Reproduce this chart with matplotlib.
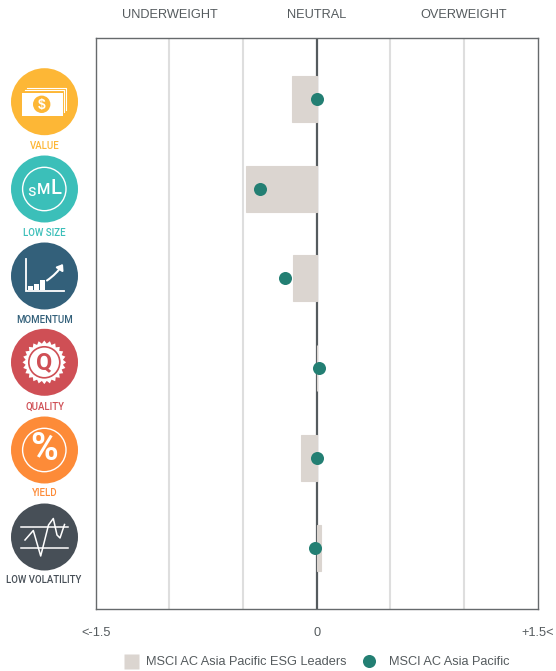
import numpy as np
import matplotlib
matplotlib.use('Agg')
import matplotlib.pyplot as plt
from matplotlib.lines import Line2D
from matplotlib.patches import Circle, Rectangle, Polygon, FancyArrowPatch

plt.rcParams['font.family'] = ['Liberation Sans', 'DejaVu Sans']

factors = ['VALUE', 'LOW SIZE', 'MOMENTUM', 'QUALITY', 'YIELD', 'LOW VOLATILITY']
esg_leaders = [-0.17, -0.48, -0.16, 0.004, -0.105, 0.03]
asia_pacific = [0.0, -0.385, -0.218, 0.012, 0.004, -0.012]
factor_colors = ['#FDB736', '#3BBFB9', '#33607A', '#CF4F55', '#FD8B38', '#474F57']
xtick_pos = [-1.5, 0, 1.5]
xtick_labels = ['<-1.5', '0', '+1.5<']
grid_pos = [-1.0, -0.5, 0.5, 1.0]
top_pos = [-1.0, 0, 1.0]
top_labels = ['UNDERWEIGHT', 'NEUTRAL', 'OVERWEIGHT']

W, H = 556, 671
fig = plt.figure(figsize=(W / 100, H / 100), dpi=100)
ax = fig.add_axes([95.8 / W, 1 - 609 / H, 442 / W, 571.5 / H])

ypos = np.arange(len(factors))
for g in grid_pos:
    ax.axvline(g, color='#DEDEDE', lw=1.5, zorder=1)
ax.axvline(0, color='#555B5E', lw=1.6, zorder=1)
ax.barh(ypos, esg_leaders, height=0.513, color='#DBD5D0', edgecolor='#DBD5D0', lw=0.8, zorder=2)
ax.scatter(asia_pacific, ypos, s=88, color='#237F73', linewidths=0, zorder=3)

ax.set_xlim(-1.5, 1.5)
ax.set_ylim(len(factors) - 1 + 0.685, -0.685)
ax.set_yticks([])
ax.set_xticks(xtick_pos)
ax.set_xticklabels(xtick_labels, fontsize=9.2, color='#555B5E')
ax.tick_params(axis='x', length=0, pad=13)
for s in ax.spines.values():
    s.set_color('#666A6C')
    s.set_linewidth(1.0)

for p, t in zip(top_pos, top_labels):
    ax.text(p, 1.039, t, transform=ax.get_xaxis_transform(), ha='center', va='center',
            fontsize=9.2, color='#555B5E')

# two separate legends, the gaps next to the square and the dot differ
leg1 = fig.legend([Line2D([], [], ls='none', marker='s', ms=10.8, mfc='#DBD5D0', mec='none')],
                  ['MSCI AC Asia Pacific ESG Leaders'],
                  loc='center left', bbox_to_anchor=(124 / W, 1 - 662 / H), frameon=False,
                  fontsize=9.2, labelcolor='#555B5E', handlelength=1.15, handletextpad=0.55,
                  borderpad=0, borderaxespad=0)
leg2 = fig.legend([Line2D([], [], ls='none', marker='o', ms=9.4, mfc='#237F73', mec='none')],
                  ['MSCI AC Asia Pacific'],
                  loc='center left', bbox_to_anchor=(363 / W, 1 - 662 / H), frameon=False,
                  fontsize=9.2, labelcolor='#555B5E', handlelength=1.0, handletextpad=1.0,
                  borderpad=0, borderaxespad=0)

# icon column, drawn in pixel coordinates
ic = fig.add_axes([0, 0, 1, 1], zorder=5)
ic.set_xlim(0, W)
ic.set_ylim(H, 0)
ic.axis('off')
ic.patch.set_alpha(0)

cx = 44.5
icon_y = [101.7, 189, 276, 362.3, 450, 537]
label_y = [145.7, 232.7, 320, 406.3, 493.3, 580.3]
for name, col, cy, ly in zip(factors, factor_colors, icon_y, label_y):
    ic.add_patch(Circle((cx, cy), 33.5, color=col, lw=0))
    ic.text(cx - 1 if name == 'LOW VOLATILITY' else cx, ly, name, ha='center', va='center',
            fontsize=6.9, color=col, family=['Roboto', 'DejaVu Sans'], weight='medium')

# value: banknotes and coin
ic.plot([25, 64, 64], [89.5, 89.5, 112], color='white', lw=0.8)
ic.plot([27, 66, 66], [87.5, 87.5, 110], color='white', lw=0.8)
ic.add_patch(Rectangle((22.3, 93.3), 40.4, 22.7, color='white', lw=0))
ic.add_patch(Circle((41.7, 104.3), 8.7, color=factor_colors[0], lw=0))
ic.text(41.7, 104.5, '$', ha='center', va='center', fontsize=10, color='white', weight='bold')

# low size: s M L in a ring
ic.add_patch(Circle((44.3, 189), 21.7, fill=False, ec='white', lw=1.0))
ic.text(31.5, 191, 's', ha='center', va='center', fontsize=12, color='white', family='Roboto')
ic.text(43.5, 190, 'M', ha='center', va='center', fontsize=11, color='white', family='Roboto', weight='medium')
ic.text(56, 188, 'L', ha='center', va='center', fontsize=14.5, color='white', family='Roboto', weight='medium')

# momentum: small chart with arrow
ic.plot([25.7, 25.7, 63.7], [259, 291, 291], color='white', lw=1.3, solid_joinstyle='miter')
for x0, x1, top in [(27.7, 32.7, 285.7), (33.7, 38.7, 283.7), (40, 45.3, 280)]:
    ic.add_patch(Rectangle((x0, top), x1 - x0, 289.5 - top, color='white', lw=0))
ic.add_patch(FancyArrowPatch((47, 280.5), (63, 264), connectionstyle='arc3,rad=0.1',
                             arrowstyle='-|>,head_length=3.2,head_width=2.4', color='white', lw=1.5,
                             shrinkA=0, shrinkB=0))

# quality: seal with Q
ang = np.linspace(0, 2 * np.pi, 48, endpoint=False)
rad = np.where(np.arange(48) % 2 == 0, 21.8, 18.8)
ic.add_patch(Polygon(np.c_[44.3 + rad * np.cos(ang), 362.3 + rad * np.sin(ang)], color='white', lw=0))
ic.add_patch(Circle((44.3, 362.3), 15.5, fill=False, ec=factor_colors[3], lw=1.2))
ic.text(44.3, 362.3, 'Q', ha='center', va='center', fontsize=17, color=factor_colors[3],
        family='Roboto', weight='bold')

# yield: percent in a ring
ic.add_patch(Circle((44.3, 450), 21.7, fill=False, ec='white', lw=1.0))
ic.text(44.3, 450, '%', ha='center', va='center', fontsize=27, color='white', family='Roboto', weight='bold')

# low volatility: zigzag between two bands
ic.plot([21, 67.7], [527.3, 527.3], color='white', lw=1.1)
ic.plot([21, 67.7], [547.7, 547.7], color='white', lw=1.1)
ic.plot([25, 33.3, 40.7, 48.5, 53.3, 57, 60, 64.5],
        [540, 530.5, 556, 525, 518.5, 535, 538, 524.5], color='white', lw=1.1)

fig.savefig('out.png', dpi=100)
